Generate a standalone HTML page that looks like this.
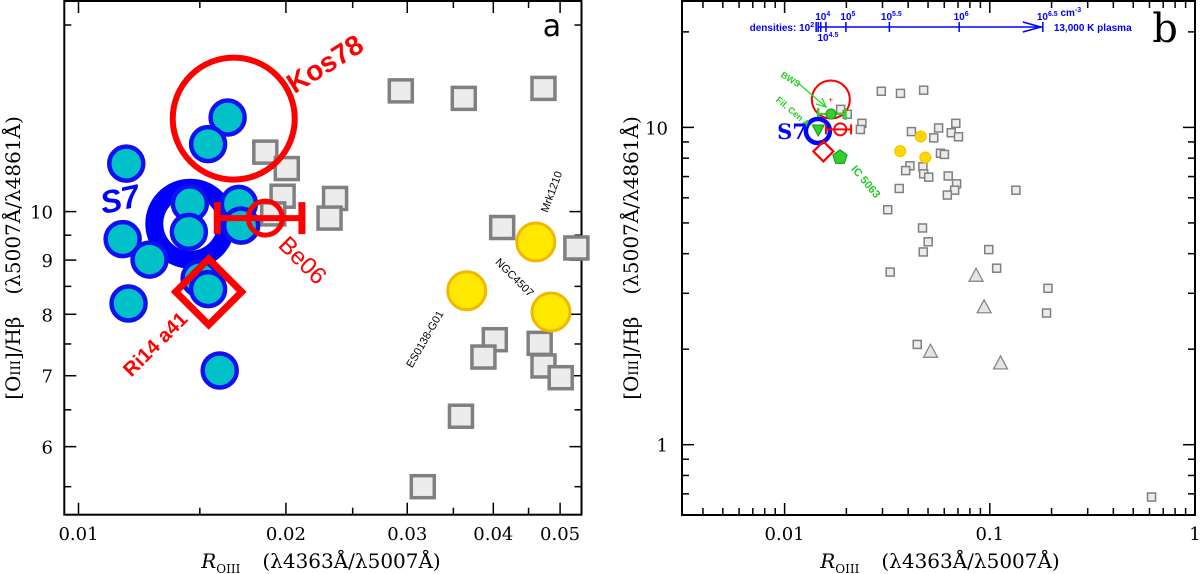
<!DOCTYPE html>
<html><head><meta charset="utf-8"><style>
html,body{margin:0;padding:0;background:#fff;}
svg{display:block;}
.tl{font-family:"DejaVu Serif","Liberation Serif",serif;font-size:18px;fill:#000;}
.ti{font-family:"DejaVu Serif","Liberation Serif",serif;font-size:20px;fill:#000;}
.sb{font-family:"Liberation Sans",sans-serif;font-weight:bold;}
</style></head><body>
<svg id="chart" width="1200" height="574" viewBox="0 0 1200 574">
<g id="pa"></g>
<g id="pb"></g>
</svg>
<script>
// ---- Panel a data ----
const aCyanX=[0.01646,0.01542,0.01173,0.01451,0.01709,0.01159,0.01268,0.01446,0.01722,0.01499,0.01542,0.01182,0.01603];
const aCyanY=[12.27,11.58,11.10,10.18,10.17,9.42,9.01,9.57,9.70,8.65,8.45,8.19,7.08];
const aSqX=[0.02936,0.03624,0.0473,0.01867,0.02006,0.01978,0.02357,0.02314,0.01917,0.0412,0.0528,0.0402,0.0387,0.0467,0.0473,0.0501,0.0359,0.0316];
const aSqY=[13.0,12.79,13.07,11.38,10.98,10.34,10.29,9.86,9.95,9.66,9.24,7.57,7.29,7.51,7.15,6.97,6.41,5.50];
const yelX=[0.0461,0.0366,0.0485];
const yelY=[9.36,8.42,8.04];
const s7=[0.01453,9.74];
const kos78=[0.0168,12.24];
const be06=[0.01867,9.86,0.0159,0.0211];
const ri14=[0.01545,8.40];
const aXTicks=[0.01,0.02,0.03,0.04,0.05];
const aXTickLabels=["0.01","0.02","0.03","0.04","0.05"];
const aXMinor=[0.015,0.025,0.035,0.045];
const aYTicks=[6,7,8,9,10];
const aYTickLabels=["6","7","8","9","10"];
const aYMinor=[5.5,6.5,7.5,8.5,9.5,15];
// ---- Panel b data ----
const bSqX=[0.0296,0.0367,0.0476,0.01877,0.0202,0.0238,0.0234,0.0415,0.0563,0.0683,0.0649,0.0704,0.0533,0.0575,0.0601,0.0408,0.0389,0.0472,0.0476,0.0504,0.0627,0.0689,0.0674,0.0621,0.134,0.0362,0.0318,0.047,0.0501,0.0474,0.0988,0.0327,0.108,0.192,0.189,0.0443,0.614];
const bSqY=[13.0,12.8,13.1,11.4,11.0,10.3,9.85,9.70,9.96,10.3,9.62,9.34,9.27,8.29,8.22,7.57,7.31,7.51,7.14,6.97,7.03,6.64,6.34,6.12,6.34,6.42,5.50,4.82,4.36,4.05,4.12,3.50,3.60,3.11,2.60,2.07,0.684];
const bTriX=[0.0857,0.0938,0.0514,0.1128];
const bTriY=[3.42,2.72,1.97,1.81];
const bws=[0.01683,11.02,0.01457,0.0198];
const filCen=[0.01459,9.81];
const ic5063=[0.01862,8.05];
const bXTicks=[0.01,0.1,1];
const bXTickLabels=["0.01","0.1","1"];
const bYTicks=[1,10];
const bYTickLabels=["1","10"];
const densVals=[0.01457,0.01500,0.01590,0.0199,0.0324,0.0709,0.1813];
const densLabels=["","10<tspan font-size='7' dy='-4'>4</tspan>","10<tspan font-size='7' dy='-4'>4.5</tspan>","10<tspan font-size='7' dy='-4'>5</tspan>","10<tspan font-size='7' dy='-4'>5.5</tspan>","10<tspan font-size='7' dy='-4'>6</tspan>","10<tspan font-size='7' dy='-4'>6.5</tspan> cm<tspan font-size='7' dy='-4'>-3</tspan>"];

const L=Math.log10;
const xA=v=>78.5+689*L(v/0.01), yA=v=>211.6-1059.5*L(v/10);
const xB=v=>784.6+205.2*L(v/0.01), yB=v=>127.4-317.3*L(v/10);
const NS="http://www.w3.org/2000/svg";
function mk(parent,tag,attrs,text){const e=document.createElementNS(NS,tag);for(const k in attrs)e.setAttribute(k,attrs[k]);if(text!==undefined)e.innerHTML=text;parent.appendChild(e);return e;}

const pa=document.getElementById('pa');
const A={l:64.3,r:581.5,t:1,b:514.7};
function frame(g,F,xt,xm,yt,ym,xf,yf,maj,mnr){
  const fr=mk(g,'rect',{x:F.l,y:F.t,width:F.r-F.l,height:F.b-F.t,fill:'none',stroke:'#000','stroke-width':2});
  
  
  const draw=(list,len,isX)=>list.forEach(v=>{
    if(isX){const x=xf(v);mk(g,'line',{x1:x,x2:x,y1:F.b,y2:F.b-len,stroke:'#000','stroke-width':1.5});mk(g,'line',{x1:x,x2:x,y1:F.t,y2:F.t+len,stroke:'#000','stroke-width':1.5});}
    else{const y=yf(v);mk(g,'line',{x1:F.l,x2:F.l+len,y1:y,y2:y,stroke:'#000','stroke-width':1.5});mk(g,'line',{x1:F.r,x2:F.r-len,y1:y,y2:y,stroke:'#000','stroke-width':1.5});}
  });
  draw(xt,maj,true);draw(xm,mnr,true);draw(yt,maj,false);draw(ym,mnr,false);
}
const TITLE_X="<tspan font-style='italic'>R</tspan><tspan font-size='12' dy='5'>OIII</tspan><tspan dy='-5' dx='22'>(λ4363Å/λ5007Å)</tspan>";
const TITLE_Y="[O<tspan font-size='13'>III</tspan>]/Hβ<tspan dx='22'>(λ5007Å/λ4861Å)</tspan>";
frame(pa,A,aXTicks,aXMinor,aYTicks,aYMinor,xA,yA,12,7);
aXTicks.forEach((v,i)=>{const t=mk(pa,'text',{x:xA(v),y:540,'text-anchor':'middle',class:'tl'},aXTickLabels[i]);

});
aYTicks.forEach((v,i)=>{const t=mk(pa,'text',{x:53,y:yA(v)+7,'text-anchor':'end',class:'tl'},aYTickLabels[i]);

});
let t;
t=mk(pa,'text',{x:321,y:568,'text-anchor':'middle',class:'ti'},TITLE_X);


t=mk(pa,'text',{transform:'translate(20,258) rotate(-90)','text-anchor':'middle',class:'ti'},TITLE_Y);


t=mk(pa,'text',{x:552,y:36,'text-anchor':'middle','font-family':'DejaVu Sans, sans-serif','font-size':30},"a");


aSqX.forEach((v,i)=>{const s=mk(pa,'rect',{x:xA(v)-11.5,y:yA(aSqY[i])-11,width:23,height:22,fill:'#ececec',stroke:'#808080','stroke-width':3.5});

});
let e=mk(pa,'circle',{cx:xA(kos78[0]),cy:yA(kos78[1]),r:61,fill:'none',stroke:'#ff0000','stroke-width':6});


e=mk(pa,'circle',{cx:xA(s7[0]),cy:yA(s7[1]),r:36,fill:'none',stroke:'#0000ff','stroke-width':18});


aCyanX.forEach((v,i)=>{const c=mk(pa,'circle',{cx:xA(v),cy:yA(aCyanY[i]),r:17,fill:'#00c0c8',stroke:'#1010f0','stroke-width':4.5});

});
{const cx=xA(ri14[0]),cy=yA(ri14[1]),h=33;
e=mk(pa,'polygon',{points:`${cx},${cy-h} ${cx+h},${cy} ${cx},${cy+h} ${cx-h},${cy}`,fill:'none',stroke:'#ff0000','stroke-width':7});

}
{const g=mk(pa,'g',{stroke:'#ff0000',fill:'none'});


const cx=xA(be06[0]),cy=yA(be06[1]),x1=xA(be06[2]),x2=xA(be06[3]);
mk(g,'line',{x1:x1,x2:x2,y1:cy,y2:cy,'stroke-width':6});
mk(g,'line',{x1:x1,x2:x1,y1:cy-16,y2:cy+16,'stroke-width':7});
mk(g,'line',{x1:x2,x2:x2,y1:cy-16,y2:cy+16,'stroke-width':7});
mk(g,'circle',{cx:cx,cy:cy,r:17,'stroke-width':5});}
yelX.forEach((v,i)=>{const c=mk(pa,'circle',{cx:xA(v),cy:yA(yelY[i]),r:19,fill:'#ffe800',stroke:'#f2b800','stroke-width':3});

});
const lab=(g,txt,x,y,rot,attrs,name)=>{const a=Object.assign({transform:`translate(${x},${y}) rotate(${rot})`,'text-anchor':'middle'},attrs);const tt=mk(g,'text',a,txt);return tt;};
lab(pa,"Kos78",330,72,-32,{class:'sb','font-size':28,fill:'#ff0000'},'kos78-label');
lab(pa,"S7",122,210,-12,{class:'sb','font-size':32,fill:'#0000ff','font-style':'italic'},'s7-label');
lab(pa,"Be06",297,266,45,{'font-family':'Liberation Sans, sans-serif','font-size':24,fill:'#ff0000'},'be06-label');
lab(pa,"Ri14 a41",160,349,-45,{class:'sb','font-size':20,fill:'#ff0000'},'ri14-label');
lab(pa,"Mrk1210",555,193,-70,{'font-family':'Liberation Sans, sans-serif','font-size':11,fill:'#000'},'mrk1210-label');
lab(pa,"NGC4507",512,280,45,{'font-family':'Liberation Sans, sans-serif','font-size':11,fill:'#000'},'ngc4507-label');
lab(pa,"ES0138-G01",428,341,-60,{'font-family':'Liberation Sans, sans-serif','font-size':11,fill:'#000'},'eso138-label');

const pb=document.getElementById('pb');
const B={l:682,r:1195,t:1,b:515};
const bXMinor=[],bYMinor=[];
[0.001,0.01,0.1].forEach(d=>{for(let k=2;k<=9;k++){const v=k*d;if(v>=0.0032)bXMinor.push(v);}});
[0.1,1,10].forEach(d=>{for(let k=2;k<=9;k++){const v=k*d;if(v>=0.6&&v<=25)bYMinor.push(v);}});
frame(pb,B,bXTicks,bXMinor,bYTicks,bYMinor,xB,yB,12,7);
bXTicks.forEach((v,i)=>{const tt=mk(pb,'text',{x:xB(v),y:540,'text-anchor':'middle',class:'tl'},bXTickLabels[i]);

});
bYTicks.forEach((v,i)=>{const tt=mk(pb,'text',{x:668,y:yB(v)+7,'text-anchor':'end',class:'tl'},bYTickLabels[i]);

});
t=mk(pb,'text',{x:940,y:568,'text-anchor':'middle',class:'ti'},TITLE_X);


t=mk(pb,'text',{transform:'translate(638,258) rotate(-90)','text-anchor':'middle',class:'ti'},TITLE_Y);


t=mk(pb,'text',{x:1165,y:42,'text-anchor':'middle','font-family':'DejaVu Serif, serif','font-size':40},"b");


{const g=mk(pb,'g',{fill:'#0000ff','font-family':'Liberation Sans, sans-serif','font-size':10,'font-weight':'bold'});


const y=27;
mk(g,'line',{x1:xB(densVals[0]),x2:xB(densVals[6]),y1:y,y2:y,stroke:'#0000ff','stroke-width':1.5});
densVals.forEach((v,i)=>{const x=xB(v);mk(g,'line',{x1:x,x2:x,y1:y-5,y2:y+5,stroke:'#0000ff','stroke-width':1.5});});
mk(g,'line',{x1:xB(densVals[0])-2,x2:xB(densVals[0])-2,y1:y-5,y2:y+5,stroke:'#0000ff','stroke-width':1.5});
const xe=xB(densVals[6]);
mk(g,'polyline',{points:`${xe-20},${y-5} ${xe-2},${y} ${xe-20},${y+5}`,fill:'none',stroke:'#0000ff','stroke-width':1.5});
mk(g,'text',{x:xB(densVals[0])-4,y:y+4,'text-anchor':'end'},"densities: 10<tspan font-size='7' dy='-4'>2</tspan>");
densLabels.forEach((s,i)=>{if(!s)return;const x=xB(densVals[i]);const below=(i===2);
mk(g,'text',{x:x+(i===6?-6:2),y:below?y+14:y-7,'text-anchor':i===6?'start':'middle'},s);});
mk(g,'text',{x:xe+11,y:y+4},"13,000 K plasma");}
bSqX.forEach((v,i)=>{const s=mk(pb,'rect',{x:xB(v)-4,y:yB(bSqY[i])-4,width:8,height:8,fill:'#ececec',stroke:'#808080','stroke-width':1.5});

});
bTriX.forEach((v,i)=>{const x=xB(v),y=yB(bTriY[i]);const p=mk(pb,'polygon',{points:`${x},${y-7} ${x+7},${y+6} ${x-7},${y+6}`,fill:'#e4e4e4',stroke:'#808080','stroke-width':1.2});

});
yelX.forEach((v,i)=>{const c=mk(pb,'circle',{cx:xB(v),cy:yB(yelY[i]),r:5.5,fill:'#ffd800',stroke:'#f5c000','stroke-width':1});

});
e=mk(pb,'circle',{cx:xB(kos78[0]),cy:yB(kos78[1]),r:19,fill:'none',stroke:'#ff0000','stroke-width':2});


mk(pb,'text',{x:xB(kos78[0]),y:yB(kos78[1])+3,'text-anchor':'middle','font-size':8,fill:'#ff0000','font-family':'Liberation Sans, sans-serif'},"+");
{const g=mk(pb,'g',{stroke:'#22dd22'});


const cy=yB(bws[1]),x1=xB(bws[2]),x2=xB(bws[3]);
mk(g,'line',{x1:x1,x2:x2,y1:cy,y2:cy,'stroke-width':2});
mk(g,'line',{x1:x1,x2:x1,y1:cy-6,y2:cy+6,'stroke-width':2.5});
mk(g,'line',{x1:x2,x2:x2,y1:cy-6,y2:cy+6,'stroke-width':2.5});
mk(g,'circle',{cx:xB(bws[0]),cy:cy,r:5,fill:'#33cc33',stroke:'#119911','stroke-width':1});}
e=mk(pb,'circle',{cx:xB(s7[0]),cy:yB(s7[1]),r:12,fill:'none',stroke:'#0000ff','stroke-width':4.5});


{const x=xB(filCen[0]),y=yB(filCen[1]);e=mk(pb,'polygon',{points:`${x-6},${y-5} ${x+6},${y-5} ${x},${y+6}`,fill:'#33cc33',stroke:'#119911','stroke-width':1});

}
{const g=mk(pb,'g',{stroke:'#ff0000',fill:'none'});


const cx=xB(be06[0]),cy=yB(be06[1]),x1=xB(be06[2]),x2=xB(be06[3]);
mk(g,'line',{x1:x1,x2:x2,y1:cy,y2:cy,'stroke-width':2});
mk(g,'line',{x1:x1,x2:x1,y1:cy-5,y2:cy+5,'stroke-width':2});
mk(g,'line',{x1:x2,x2:x2,y1:cy-5,y2:cy+5,'stroke-width':2});
mk(g,'circle',{cx:cx,cy:cy,r:6,'stroke-width':2});}
{const cx=xB(ri14[0]),cy=yB(ri14[1]),h=10;
e=mk(pb,'polygon',{points:`${cx},${cy-h} ${cx+h},${cy} ${cx},${cy+h} ${cx-h},${cy}`,fill:'none',stroke:'#ff0000','stroke-width':2.2});

}
{const cx=xB(ic5063[0]),cy=yB(ic5063[1]),r=7.5;let pts=[];for(let k=0;k<5;k++){const a=-Math.PI/2+k*2*Math.PI/5;pts.push(`${cx+r*Math.cos(a)},${cy+r*Math.sin(a)}`);}
e=mk(pb,'polygon',{points:pts.join(' '),fill:'#33cc33',stroke:'#119911','stroke-width':1});

}
mk(pb,'line',{x1:798,y1:83,x2:826,y2:107,stroke:'#22dd22','stroke-width':1.3});
mk(pb,'polyline',{points:'816,104 826,107 822,98',fill:'none',stroke:'#22dd22','stroke-width':1.3});
lab(pb,"S7",792,139,0,{'font-family':'DejaVu Serif, serif','font-weight':'bold','font-size':21,fill:'#0000ff'},'s7-label');
lab(pb,"BWS",789,82,32,{'font-family':'Liberation Sans, sans-serif','font-weight':'bold','font-size':9,fill:'#22cc22'},'bws-label');
lab(pb,"Fil. Cen A",791,114,40,{'font-family':'Liberation Sans, sans-serif','font-weight':'bold','font-size':9,fill:'#22cc22'},'fil-cen-a-label');
lab(pb,"IC 5063",863,184,50,{'font-family':'Liberation Sans, sans-serif','font-weight':'bold','font-size':11,fill:'#22cc22'},'ic5063-label');
</script>
</body></html>
